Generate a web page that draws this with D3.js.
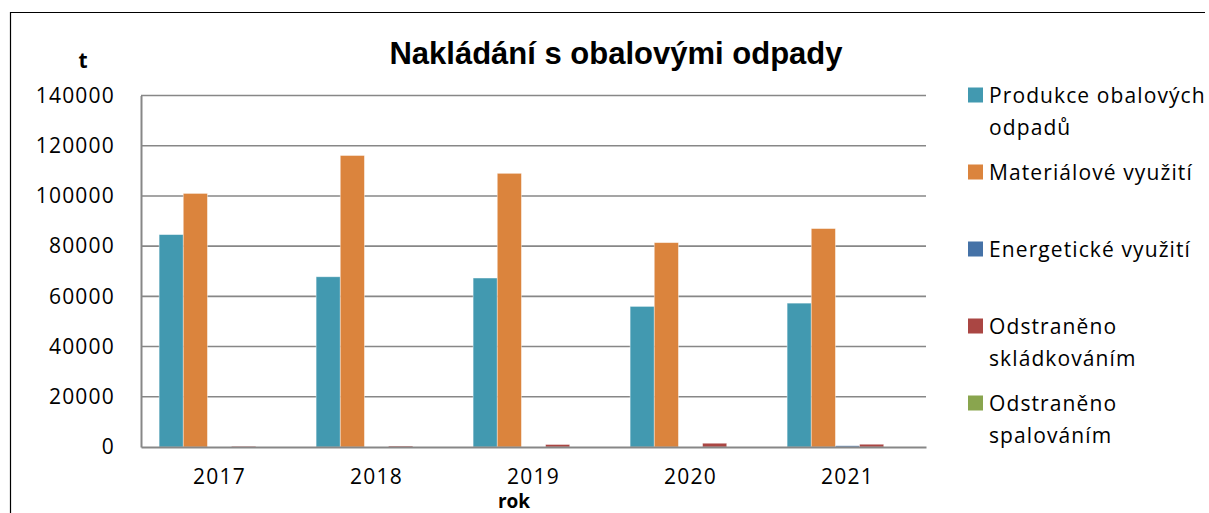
<!DOCTYPE html>
<html><head><meta charset="utf-8">
<script src="https://cdn.jsdelivr.net/npm/d3@7"></script>
<style>body{margin:0;background:#fff}svg{display:block}</style>
</head><body><svg id="c" width="1209" height="513"></svg>
<script>
const years = ["2017","2018","2019","2020","2021"];
const seriesNames = ["Produkce obalových odpadů","Materiálové využití","Energetické využití","Odstraněno skládkováním","Odstraněno spalováním"];
const produkce = [84600, 67800, 67300, 56000, 57300];
const materialove = [101000, 116100, 109000, 81400, 87000];
const energeticke = [0, 0, 0, 0, 500];
const skladkovani = [300, 400, 1000, 1500, 1100];
const spalovani = [0, 0, 0, 0, 0];
const yTicks = [0, 20000, 40000, 60000, 80000, 100000, 120000, 140000];
const colors = ["#4299b0","#db843d","#4572a7","#aa4643","#89a54e"];
const legendLines = [["Produkce obalových","odpadů"],["Materiálové využití"],["Energetické využití"],["Odstraněno","skládkováním"],["Odstraněno","spalováním"]];
const allSeries = [produkce, materialove, energeticke, skladkovani, spalovani];

const svg = d3.select("#c");
const font = "'Open Sans', Lato, sans-serif";
// outer border
svg.append("path").attr("d","M10.5,513 L10.5,12.5 L1205,12.5").attr("fill","none").attr("stroke","#000").attr("stroke-width",1.2);

const L=141, R=926, T=95.5, B=447;
const x0 = d3.scaleBand().domain(years).range([L,R]).paddingInner(0).paddingOuter(0);
const bw = x0.bandwidth()/6.5;
const y = d3.scaleLinear().domain([0,140000]).range([B,T]);

// gridlines
svg.append("g").selectAll("line").data(yTicks.filter(d=>d>0)).join("line")
  .attr("x1",L).attr("x2",R).attr("y1",d=>y(d)).attr("y2",d=>y(d))
  .attr("stroke","#878787").attr("stroke-width",1.6);

// bars
const g = svg.append("g");
allSeries.forEach((vals,si)=>{
  g.selectAll(null).data(vals).join("rect")
    .attr("x",(d,i)=>x0(years[i]) + bw*0.75 + si*bw)
    .attr("y",d=>y(d))
    .attr("width",bw)
    .attr("height",d=>B-y(d))
    .attr("fill",colors[si])
    .attr("stroke", d=> d>0 ? "rgba(255,255,255,0.5)" : "none")
    .attr("stroke-width",0.8);
});

// axes
const yAxis = d3.axisLeft(y).tickValues(yTicks).tickSize(0).tickPadding(26).tickFormat(d3.format("d"));
const ya = svg.append("g").attr("transform",`translate(${L},0)`).call(yAxis);
ya.select(".domain").attr("stroke","#878787").attr("stroke-width",2);
ya.selectAll("text").attr("font-family",font).attr("font-size",21).attr("letter-spacing",1.2).attr("fill","#000");

const xAxis = d3.axisBottom(x0).tickSize(0).tickPadding(22);
const xa = svg.append("g").attr("transform",`translate(0,${B})`).call(xAxis);
xa.select(".domain").attr("stroke","#878787").attr("stroke-width",2);
xa.selectAll("text").attr("font-family",font).attr("font-size",21).attr("letter-spacing",1.2).attr("fill","#000");

// titles
svg.append("text").attr("x",616).attr("y",64).attr("text-anchor","middle")
  .attr("font-family","'Liberation Sans', Arial, sans-serif").attr("font-weight","bold").attr("font-size",31)
  .text("Nakládání s obalovými odpady");
svg.append("text").attr("x",83).attr("y",68).attr("text-anchor","middle")
  .attr("font-family",font).attr("font-weight","bold").attr("font-size",21).text("t");
svg.append("text").attr("x",514).attr("y",508).attr("text-anchor","middle")
  .attr("font-family",font).attr("font-weight","bold").attr("font-size",19).text("rok");

// legend
const legendY = [95, 172, 249, 326, 403];
const lg = svg.append("g");
seriesNames.forEach((n,i)=>{
  lg.append("rect").attr("x",968).attr("y",legendY[i]-7.5).attr("width",15).attr("height",15).attr("fill",colors[i]);
  const t = lg.append("text").attr("font-family",font).attr("font-size",21).attr("letter-spacing",1.1).attr("fill","#000");
  legendLines[i].forEach((ln,j)=>{
    t.append("tspan").attr("x",989).attr("y",legendY[i]+7.5+j*32).text(ln);
  });
});
</script></body></html>
